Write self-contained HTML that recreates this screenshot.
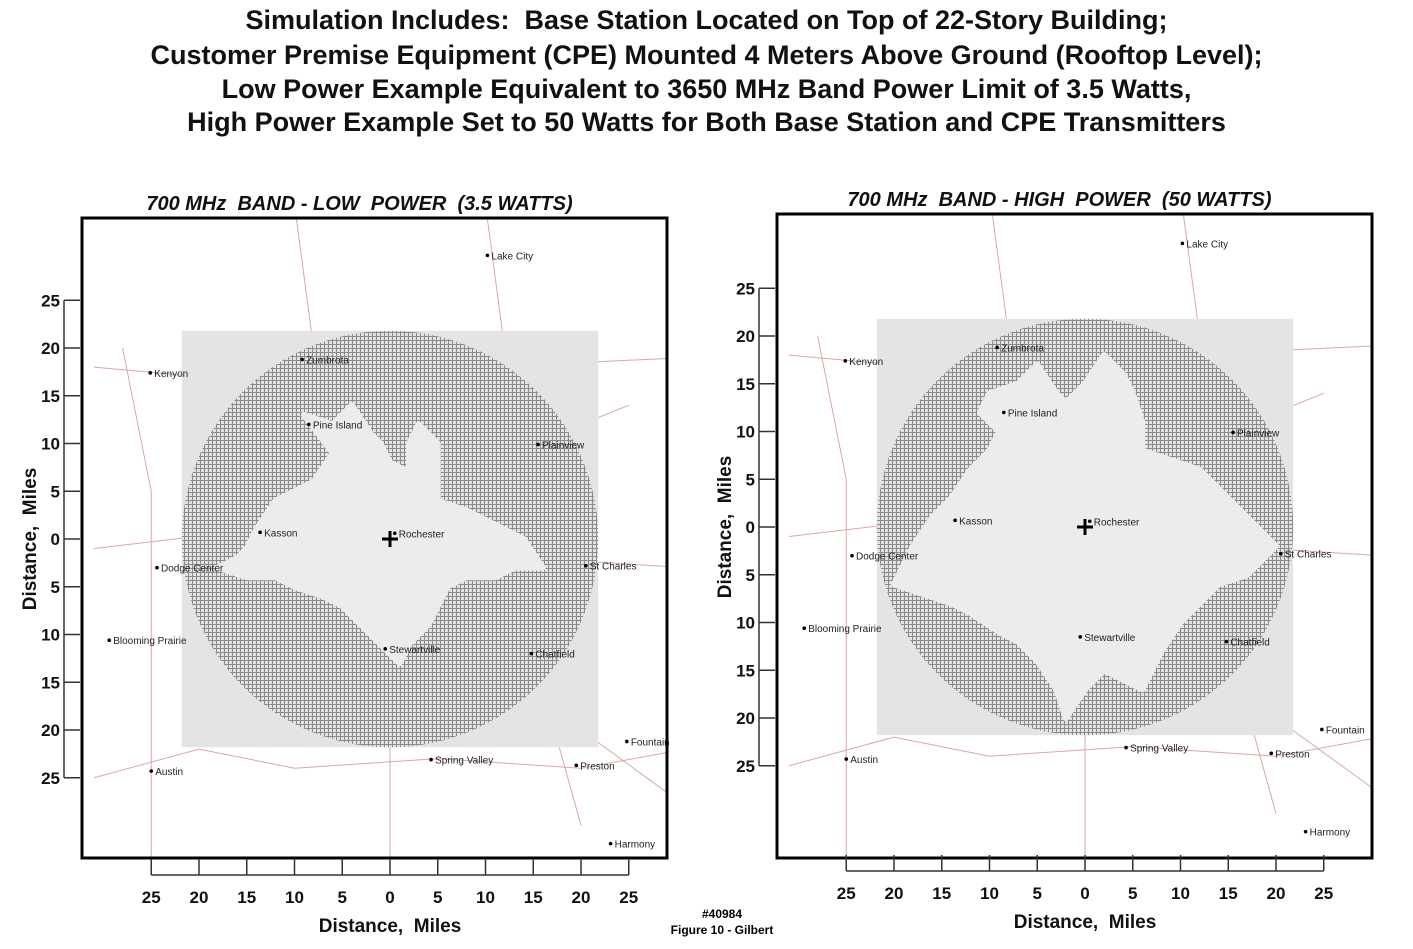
<!DOCTYPE html>
<html><head><meta charset="utf-8">
<style>
body{margin:0;background:#fff;width:1413px;height:949px;overflow:hidden;font-family:"Liberation Sans",sans-serif;}
.t{position:absolute;left:0;width:1413px;text-align:center;font-weight:bold;font-size:27px;color:#111;white-space:pre;}
text{white-space:pre;}
</style></head><body>
<div class="t" style="top:5px">Simulation Includes:  Base Station Located on Top of 22-Story Building;</div>
<div class="t" style="top:40px">Customer Premise Equipment (CPE) Mounted 4 Meters Above Ground (Rooftop Level);</div>
<div class="t" style="top:74px">Low Power Example Equivalent to 3650 MHz Band Power Limit of 3.5 Watts,</div>
<div class="t" style="top:107px">High Power Example Set to 50 Watts for Both Base Station and CPE Transmitters</div>
<svg id="s" width="1413" height="949" style="position:absolute;left:0;top:0">
<defs>
<pattern id="grid" width="4" height="4" patternUnits="userSpaceOnUse">
<rect width="4" height="4" fill="#e2e2e2"/>
<path d="M0 0.5H4M0.5 0V4" stroke="#8a8a8a" stroke-width="1"/>
</pattern>
<clipPath id="c0"><rect x="82" y="218" width="585" height="640"/></clipPath>
<clipPath id="c1"><rect x="777" y="214" width="595" height="644"/></clipPath>
</defs>
</svg>
<script>
const tickLabels=[25,20,15,10,5,0,5,10,15,20,25];
const tickMiles=[25,20,15,10,5,0,-5,-10,-15,-20,-25];
const cityNames=["Lake City","Kenyon","Zumbrota","Pine Island","Plainview","Kasson","Rochester","Dodge Center","St Charles","Blooming Prairie","Stewartville","Chatfield","Fountain","Austin","Spring Valley","Preston","Harmony"];
const cityX=[10.2,-25.1,-9.2,-8.5,15.5,-13.6,0.5,-24.4,20.5,-29.4,-0.5,14.8,24.8,-25,4.3,19.5,23.1];
const cityY=[29.7,17.4,18.8,12.0,9.9,0.7,0.6,-3.0,-2.8,-10.6,-11.5,-12.0,-21.2,-24.3,-23.1,-23.7,-31.9];
const roads=[[[-31,-25],[-20,-22],[-10,-24],[5,-23],[20,-24],[31,-22]],[[-31,18],[-20,17],[-5,19],[10,18],[31,19]],[[0,-35],[0,-12],[0,0],[-3,10],[-8,20],[-10,35]],[[-31,-1],[-14,1],[0,0],[15,-2],[31,-3]],[[0,0],[8,5],[15,10],[25,14]],[[0,-12],[10,-15],[20,-20],[31,-28]],[[-25,-35],[-25,5],[-28,20]],[[10,35],[12,20],[15,10],[16,-5],[15,-12],[20,-30]]];
const lowBlob=[[-14,1],[-12,4],[-8,6],[-6,9],[-9,13],[-6,12],[-4,14],[-2,11],[-1,10],[0,8],[2,7],[2,10],[3,12],[5,10],[5,7],[5,4],[8,3],[10,2],[12,1],[14,0],[16,-3],[13,-3],[11,-4],[8,-4],[6,-5],[5,-7],[4,-9],[2,-11],[1,-13],[-1,-11],[-3,-9],[-5,-7],[-7,-6],[-10,-5],[-12,-4],[-15,-4],[-18,-3],[-16,-2],[-15,-1]];
const highBlob=[[-16,1],[-14,3],[-12,6],[-10,8],[-9,10],[-11,12],[-10,14],[-7,15],[-5,17],[-3,14],[-2,13],[0,15],[2,18],[4,16],[5,14],[6,11],[6,8],[9,7],[12,6],[14,4],[16,2],[18,0],[20,-2],[18,-4],[17,-5],[14,-6],[12,-8],[10,-10],[8,-13],[7,-15],[6,-17],[4,-16],[2,-15],[0,-17],[-2,-20],[-3,-17],[-5,-14],[-7,-12],[-9,-11],[-12,-9],[-14,-8],[-17,-7],[-20,-6],[-19,-4],[-18,-2]];
const panels=[{cx:390,cy:539,k:9.55,L:82,T:218,R:667,B:858,title:"700 MHz  BAND - LOW  POWER  (3.5 WATTS)",blob:lowBlob,ax:64,xl:897,name:"low-power",clip:"c0"},
{cx:1085,cy:527,k:9.55,L:777,T:214,R:1372,B:858,title:"700 MHz  BAND - HIGH  POWER  (50 WATTS)",blob:highBlob,ax:759,xl:893,name:"high-power",clip:"c1"}];
const S=document.getElementById('s');const NS="http://www.w3.org/2000/svg";
function mk(t,a,p){const e=document.createElementNS(NS,t);for(const k in a)e.setAttribute(k,a[k]);(p||S).appendChild(e);return e;}
panels.forEach(p=>{
 const X=m=>p.cx+m*p.k, Y=m=>p.cy-m*p.k;
 const g=mk('g',{});
 
 
 const tt=mk('text',{x:(p.L+p.R)/2-15,y:p.T-8,'text-anchor':'middle','font-size':20,'font-weight':'bold','font-style':'italic',fill:'#111'},g);tt.textContent=p.title;
 
 
 const mg=mk('g',{'clip-path':'url(#'+p.clip+')'},g);
 roads.forEach(r=>{const pl=mk('polyline',{points:r.map(q=>X(q[0])+','+Y(q[1])).join(' '),fill:'none',stroke:'#dba7a7','stroke-width':1},mg);
  
  });
 const sq=mk('rect',{x:X(-21.8),y:Y(21.8),width:43.6*p.k,height:43.6*p.k,fill:'#e4e4e4'},g);
 
 
 const c=mk('circle',{cx:p.cx,cy:p.cy,r:21.8*p.k,fill:'url(#grid)'},g);
 
 
 const b=mk('polygon',{points:p.blob.map(q=>X(q[0])+','+Y(q[1])).join(' '),fill:'#ececec',stroke:'#ececec','stroke-width':6,'stroke-linejoin':'round'},g);
 
 
 mk('rect',{x:p.L,y:p.T,width:p.R-p.L,height:p.B-p.T,fill:'none',stroke:'#000','stroke-width':3},g);
 cityNames.forEach((n,i)=>{const x=X(cityX[i]),y=Y(cityY[i]);
  mk('circle',{cx:x,cy:y,r:1.8,fill:'#000'},g);
  const t=mk('text',{x:x+4,y:y+4,'font-size':10,fill:'#222'},g);t.textContent=n;
  
  });
 const pl=mk('path',{d:`M${p.cx-8} ${p.cy}H${p.cx+8}M${p.cx} ${p.cy-8}V${p.cy+8}`,stroke:'#000','stroke-width':3},g);
 
 
 mk('line',{x1:p.ax,y1:Y(25),x2:p.ax,y2:Y(-25),stroke:'#333','stroke-width':1.5},g);
 mk('line',{x1:X(25),y1:p.xl-22,x2:X(-25),y2:p.xl-22,stroke:'#333','stroke-width':1.5},g);
 tickMiles.forEach((m,i)=>{
  mk('line',{x1:p.ax,y1:Y(m),x2:p.ax+16,y2:Y(m),stroke:'#333','stroke-width':1.5},g);
  const ty=mk('text',{x:p.ax-4,y:Y(m)+6,'text-anchor':'end','font-size':17,'font-weight':'bold',fill:'#111'},g);ty.textContent=tickLabels[i];
  
  
  mk('line',{x1:X(-m),y1:p.xl-22,x2:X(-m),y2:p.xl-38,stroke:'#333','stroke-width':1.5},g);
  const tx=mk('text',{x:X(-m),y:p.xl+6,'text-anchor':'middle','font-size':17,'font-weight':'bold',fill:'#111'},g);tx.textContent=tickLabels[i];
  
  
 });
 const xt=mk('text',{x:p.cx,y:p.xl+35,'text-anchor':'middle','font-size':19,'font-weight':'bold',fill:'#111'},g);xt.textContent="Distance,  Miles";
 
 
 const yt=mk('text',{x:0,y:0,'text-anchor':'middle','font-size':19,'font-weight':'bold',fill:'#111',transform:`translate(${p.ax-28},${p.cy}) rotate(-90)`},g);yt.textContent="Distance,  Miles";
 
 
});
const f1=mk('text',{x:722,y:918,'text-anchor':'middle','font-size':12,'font-weight':'bold'});f1.textContent="#40984";


const f2=mk('text',{x:722,y:934,'text-anchor':'middle','font-size':12,'font-weight':'bold'});f2.textContent="Figure 10 - Gilbert";


</script>
</body></html>
